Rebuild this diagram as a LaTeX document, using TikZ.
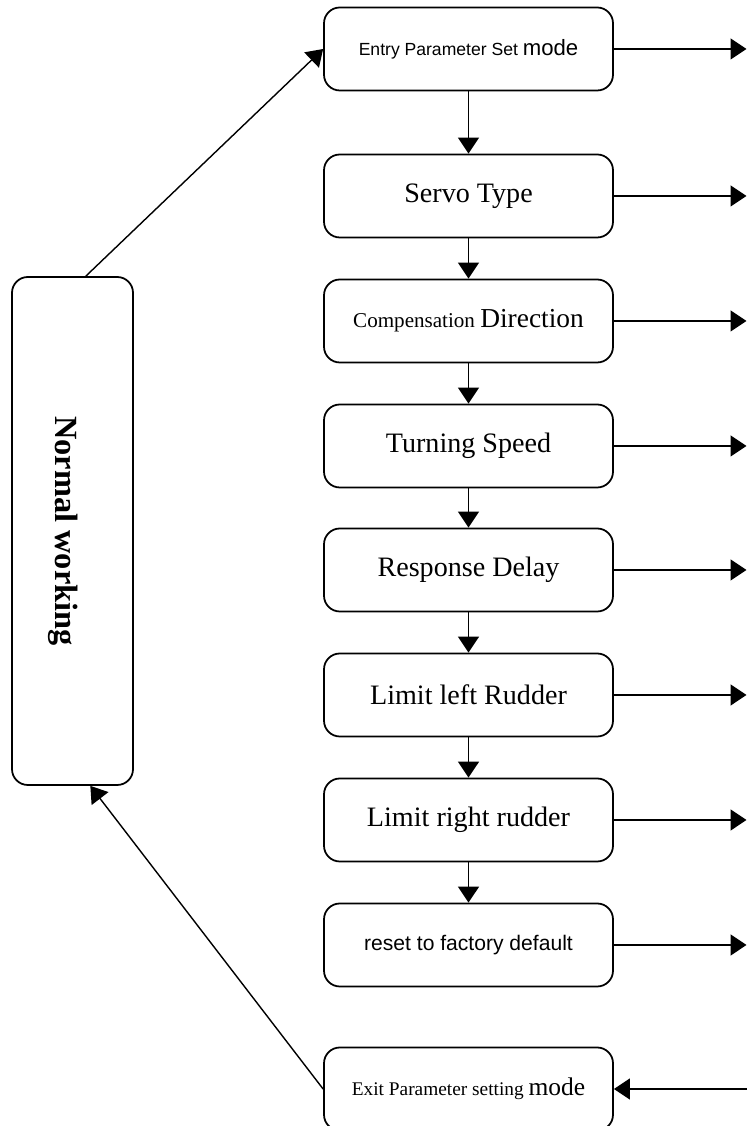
\documentclass[tikz,border=0pt]{standalone}
\usepackage{fontspec}
\setmainfont{Liberation Serif}
\newfontfamily\arialfont{Liberation Sans}
\usetikzlibrary{arrows.meta}

\tikzset{
  stepbox/.style={draw,black,line width=1pt,rounded corners=9pt,
                  minimum width=5.78cm,minimum height=1.66cm,inner sep=2pt},
  arr/.style={line width=0.8pt,-{Triangle[length=0.32cm,width=0.42cm]}},
}

\begin{document}
\begin{tikzpicture}
\useasboundingbox (0,0) rectangle (14.94,22.52);

%---------------------------------------------------
\node[stepbox] (entry)  at (9.37,21.54) {\arialfont\fontsize{10}{12}\selectfont Entry Parameter Set \fontsize{12.6}{14}\selectfont mode};
\node[stepbox] (servo)  at (9.37,18.60) {\fontsize{16}{18}\selectfont Servo Type};
\node[stepbox] (comp)   at (9.37,16.10) {\fontsize{12}{14}\selectfont Compensation \fontsize{15.6}{18}\selectfont Direction};
\node[stepbox] (speed)  at (9.37,13.60) {\fontsize{16}{18}\selectfont Turning Speed};
\node[stepbox] (delay)  at (9.37,11.12) {\fontsize{16}{18}\selectfont Response Delay};
\node[stepbox] (left)   at (9.37,8.62)  {\fontsize{16}{18}\selectfont Limit left Rudder};
\node[stepbox] (right)  at (9.37,6.12)  {\fontsize{16}{18}\selectfont Limit right rudder};
\node[stepbox] (reset)  at (9.37,3.62)  {\arialfont\fontsize{12}{14}\selectfont reset to factory default};
\node[stepbox] (exit)   at (9.37,0.74)  {\fontsize{11}{13}\selectfont Exit Parameter setting \fontsize{14.5}{16}\selectfont mode};

\node[stepbox,minimum width=2.42cm,minimum height=10.16cm] (normal) at (1.45,11.9) {};
\node[rotate=-90] (normtext) at (1.27,11.9) {\fontsize{18.4}{20}\selectfont\bfseries Normal working};

\coordinate (rim) at (14.93,0);

%---------------------------------------------------
\draw[arr] (entry) -- (servo);
\draw[arr] (servo) -- (comp);
\draw[arr] (comp)  -- (speed);
\draw[arr] (speed) -- (delay);
\draw[arr] (delay) -- (left);
\draw[arr] (left)  -- (right);
\draw[arr] (right) -- (reset);

%---------------------------------------------------
\draw[arr] (entry.east) -- (entry.east -| rim);
\draw[arr] (servo.east) -- (servo.east -| rim);
\draw[arr] (comp.east)  -- (comp.east -| rim);
\draw[arr] (speed.east) -- (speed.east -| rim);
\draw[arr] (delay.east) -- (delay.east -| rim);
\draw[arr] (left.east)  -- (left.east -| rim);
\draw[arr] (right.east) -- (right.east -| rim);
\draw[arr] (reset.east) -- (reset.east -| rim);
\draw[arr] (exit.east -| rim) -- (exit.east);

%---------------------------------------------------
\draw[arr] (normal.87) -- (entry.west);
\draw[arr] (exit.west) -- (normal.-86);
\end{tikzpicture}
\end{document}
